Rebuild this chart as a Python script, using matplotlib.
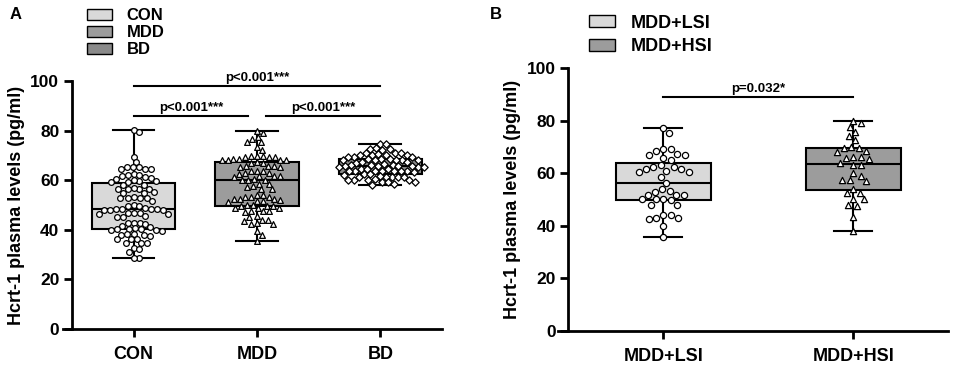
import numpy as np
import matplotlib
matplotlib.use("Agg")
import matplotlib.pyplot as plt
from matplotlib.patches import Patch

plt.rcParams['font.family'] = ['Liberation Sans', 'DejaVu Sans']
plt.rcParams['font.weight'] = 'bold'

# ---------------- data ----------------
groups_a = ["CON", "MDD", "BD"]
con = [80.2, 79.3, 69.4, 67.3,
       65.3, 65.1, 64.6, 64.3, 64.4, 65.2, 62.6,
       62.1, 61.2, 60.6, 61.6, 62.0, 61.0,
       59.6, 59.4, 60.1, 59.8, 59.2,
       57.9, 58.1,
       56.4, 56.6, 56.3, 56.5, 56.7,
       55.0, 54.8, 55.2,
       52.9, 52.8, 53.0, 52.7, 53.1,
       51.5,
       49.8, 49.5, 49.6,
       48.4, 48.5, 48.2, 48.0, 48.3, 48.1, 47.9, 48.6,
       46.8, 46.5, 46.9, 46.6, 46.4,
       45.2, 45.5, 45.0,
       42.8, 42.7, 42.9, 42.5,
       41.4, 41.0, 40.6, 40.3, 40.2, 40.0, 39.8, 39.6, 40.4,
       38.0, 38.1, 38.3, 37.6, 38.2,
       36.3, 36.1, 36.4,
       34.7, 34.5, 34.8,
       32.7, 32.4,
       31.0,
       28.6, 28.8]
mdd = [79.7, 79.0, 77.3, 76.5, 75.3, 75.4, 73.5, 72.3,
       69.4, 69.7, 69.5, 69.8, 69.3, 69.6,
       68.2, 68.4, 68.3, 68.1, 68.5, 68.0,
       67.1, 66.9, 67.2,
       65.6, 65.5, 65.7, 65.4, 65.8,
       63.6, 63.5, 63.7,
       62.7, 62.6, 62.8,
       61.6, 61.5, 61.7, 61.4,
       60.2, 60.1, 60.3, 60.0,
       58.6, 58.5,
       57.5, 57.4,
       56.5, 56.4,
       54.2, 54.1,
       53.2, 53.1, 53.3,
       52.4, 52.3, 52.5, 52.2,
       51.5, 51.4, 51.6,
       49.7, 49.6, 49.8, 49.5, 49.9,
       48.8, 48.7, 48.9,
       47.5, 47.4, 47.6, 47.3,
       45.4, 45.3,
       43.8, 43.7, 43.9,
       42.5, 42.4, 42.6,
       39.4, 38.0, 35.6]
bd = [74.6, 74.5,
      72.7, 72.6, 72.8,
      72.0,
      71.0, 71.1, 70.9,
      70.3, 70.2, 70.4, 70.3, 70.1,
      69.4, 69.5, 69.3,
      68.3, 68.2, 68.4, 68.3, 68.1, 68.5, 68.2, 68.4,
      67.2, 67.1, 67.3,
      66.3, 66.2, 66.4, 66.3,
      65.6, 65.5, 65.7, 65.6, 65.4, 65.8, 65.5,
      64.5, 64.4, 64.6,
      63.6, 63.5, 63.7, 63.6, 63.4, 63.8, 63.5, 63.7,
      62.3, 62.2, 62.4,
      61.3, 61.2, 61.4, 61.3, 61.1, 61.5,
      60.2, 60.1, 60.3, 60.2, 60.0,
      59.3, 59.2, 59.4,
      58.2, 58.3]

groups_b = ["MDD+LSI", "MDD+HSI"]
lsi = [77.2, 75.4, 69.1, 69.0, 68.5, 67.2, 67.0, 66.8, 65.7, 64.8,
       62.5, 62.2, 63.0, 61.5, 61.5, 60.6, 60.5, 60.8, 58.5, 56.4,
       53.9, 53.0, 53.3, 51.7, 51.5, 51.8, 50.0, 49.7, 50.1, 50.2,
       47.9, 48.0, 44.0, 44.1, 42.8, 42.7, 43.0, 40.0, 35.6]
hsi = [80.0, 79.0, 77.5, 75.5, 74.0, 72.5, 70.0, 69.5, 69.4, 68.5, 68.0,
       66.0, 66.1, 65.9, 65.5, 64.0, 63.2, 63.0, 60.0, 59.0, 57.5, 57.4,
       57.0, 54.0, 52.5, 52.4, 50.0, 50.1, 48.0, 47.5, 43.5, 38.0]

yticks = [0, 20, 40, 60, 80, 100]
ylabel = "Hcrt-1 plasma levels (pg/ml)"
sig_a = [("p<0.001***", 0, 2, 97.8), ("p<0.001***", 0, 0.93, 86.0), ("p<0.001***", 1.07, 2, 86.0)]
sig_b = [("p=0.032*", 0, 1, 88.8)]

# ---------------- style ----------------
col_light = "#d9d9d9"
col_mid = "#9c9c9c"
col_dark = "#8a8a8a"

fig = plt.figure(figsize=(9.57, 3.71), dpi=100)
axA = fig.add_axes([0.075, 0.113, 0.387, 0.669])
axB = fig.add_axes([0.594, 0.108, 0.397, 0.709])


def swarm_x(ax, vals, center, diam_px):
    """Beeswarm offsets computed in display space from the axes transform."""
    vals = np.asarray(vals, dtype=float)
    pts = ax.transData.transform(np.column_stack([np.full(len(vals), center), vals]))
    cx = pts[0, 0]
    ys = pts[:, 1]
    order = np.argsort(-ys)
    placed = []
    xs_px = np.zeros(len(vals))
    for i in order:
        y = ys[i]
        cands = [cx]
        for (px, py) in placed:
            dy = abs(py - y)
            if dy < diam_px:
                dx = np.sqrt(diam_px ** 2 - dy ** 2)
                cands += [px + dx + 0.01, px - dx - 0.01]
        cands = sorted(cands, key=lambda c: abs(c - cx))
        for c in cands:
            ok = True
            for (px, py) in placed:
                if (px - c) ** 2 + (py - y) ** 2 < diam_px ** 2 - 1e-6:
                    ok = False
                    break
            if ok:
                xs_px[i] = c
                break
        placed.append((xs_px[i], y))
    inv = ax.transData.inverted()
    return inv.transform(np.column_stack([xs_px, ys]))[:, 0]


def panel(ax, data, names, colors, markers, xlim, width, capw, sigs, spine_left, diam, msize):
    ax.set_xlim(*xlim)
    ax.set_ylim(0, 100)
    pos = list(range(len(data)))
    bp = ax.boxplot(data, positions=pos, widths=width, whis=(0, 100), patch_artist=True,
                    showfliers=False, capwidths=capw,
                    medianprops=dict(color="black", linewidth=1.5),
                    whiskerprops=dict(color="black", linewidth=1.5),
                    capprops=dict(color="black", linewidth=1.5),
                    boxprops=dict(edgecolor="black", linewidth=1.5), zorder=2)
    for p, c in zip(bp["boxes"], colors):
        p.set_facecolor(c)
    for k, (vals, m) in enumerate(zip(data, markers)):
        xs = swarm_x(ax, vals, k, diam)
        ax.scatter(xs, vals, s=msize if m != "D" else msize * 0.82, marker=m, facecolor="white",
                   edgecolor="black", linewidth=0.9, zorder=3)
    for txt, x0, x1, y in sigs:
        ax.plot([x0, x1], [y, y], color="black", lw=1.5, clip_on=False)
        ax.text((x0 + x1) / 2, y + 0.8, txt, ha="center", va="bottom", fontsize=9.5,
                fontweight="bold")
    ax.set_xticks(pos)
    ax.set_xticklabels(names, fontsize=13, fontweight="bold")
    ax.set_yticks(yticks)
    ax.set_yticklabels([str(t) for t in yticks], fontsize=12.5, fontweight="bold")
    ax.set_ylabel(ylabel, fontsize=13, fontweight="bold", labelpad=4)
    for s in ["top", "right"]:
        ax.spines[s].set_visible(False)
    for s in ["left", "bottom"]:
        ax.spines[s].set_linewidth(2)
    ax.spines["bottom"].set_bounds(spine_left, xlim[1])
    ax.tick_params(axis="both", width=2, length=6, pad=3)
    ax.tick_params(axis="x", pad=6)


panel(axA, [con, mdd, bd], groups_a, [col_light, col_mid, col_dark], ["o", "^", "D"],
      (-0.5, 2.5), 0.675, 0.34, sig_a, -0.57, 6.0, 17)
panel(axB, [lsi, hsi], groups_b, [col_light, col_mid], ["o", "^"],
      (-0.5, 1.5), 0.5, 0.2, sig_b, -0.553, 7.6, 20)

legA = fig.legend([Patch(facecolor=c, edgecolor="black", linewidth=1) for c in [col_light, col_mid, col_dark]],
                  groups_a, loc="upper left", bbox_to_anchor=(0.080, 1.005), frameon=False,
                  handlelength=1.5, handleheight=0.6, labelspacing=0.12, handletextpad=0.9,
                  prop=dict(weight="bold", size=12), borderaxespad=0.2)
legB = fig.legend([Patch(facecolor=c, edgecolor="black", linewidth=1) for c in [col_light, col_mid]],
                  groups_b, loc="upper left", bbox_to_anchor=(0.604, 0.99), frameon=False,
                  handlelength=1.45, handleheight=0.6, labelspacing=0.38, handletextpad=0.85,
                  prop=dict(weight="bold", size=13), borderaxespad=0.2)

fig.text(0.010, 0.962, "A", fontsize=12, fontweight="bold", ha="left", va="center")
fig.text(0.512, 0.962, "B", fontsize=12, fontweight="bold", ha="left", va="center")

fig.savefig("out.png", dpi=100)
